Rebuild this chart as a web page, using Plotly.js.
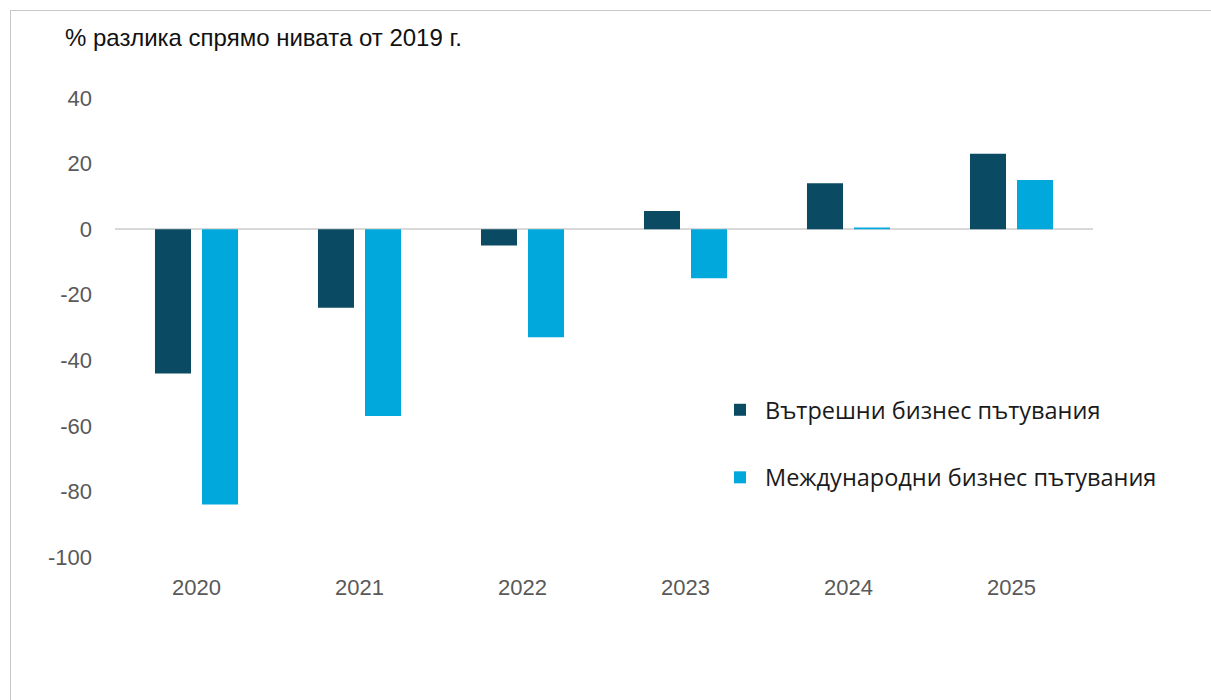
<!DOCTYPE html>
<html><head><meta charset="utf-8">
<script src="https://cdn.plot.ly/plotly-3.0.1.min.js"></script>
<style>
html,body{margin:0;padding:0;background:#fff;}
#wrap{position:relative;width:1211px;height:700px;overflow:hidden;}
#frame{position:absolute;left:10px;top:10px;width:1300px;height:800px;border-left:1px solid #c8c8c8;border-top:1px solid #c8c8c8;pointer-events:none;z-index:5;}
#chart{position:absolute;left:0;top:0;width:1211px;height:700px;}
</style></head>
<body><div id="wrap"><div id="chart"></div><div id="frame"></div></div>
<script>
const years = ["2020","2021","2022","2023","2024","2025"];
const domestic = [-44, -24, -5, 5.5, 14, 23];
const international = [-84, -57, -33, -15, 0.5, 15];
const seriesNames = ["Вътрешни бизнес пътувания","Международни бизнес пътувания"];
const yTicks = [40,20,0,-20,-40,-60,-80,-100];
const yTitle = "% разлика спрямо нивата от 2019 г.";

const traces = [
  {type:'bar', x:years, y:domestic, name:seriesNames[0], marker:{color:'#0b4a63'}, legendgroup:'a'},
  {type:'bar', x:years, y:international, name:seriesNames[1], marker:{color:'#00a8dc'}, legendgroup:'b'}
];
const layout = {
  width:1211, height:700,
  margin:{l:115, r:118, t:98, b:143},
  paper_bgcolor:'#fff', plot_bgcolor:'#fff',
  barmode:'group', bargap:0.423, bargroupgap:0.234,
  font:{family:'Liberation Sans, Arial, sans-serif', color:'#595959'},
  xaxis:{type:'category', range:[-0.5,5.5], showgrid:false, zeroline:false, showline:false,
         ticks:'', tickfont:{size:22, color:'#595959'}, ticklabelstandoff:15},
  yaxis:{range:[-100,40], tickvals:yTicks, ticktext:yTicks.map(String), showgrid:false,
         zeroline:true, zerolinecolor:'#d9d9d9', zerolinewidth:2, showline:false, ticks:'',
         tickfont:{size:22, color:'#595959'}, ticklabelstandoff:22},
  showlegend:true,
  legend:{x:(715-115)/978, xanchor:'left', y:(557-388)/459, yanchor:'top',
          font:{size:23.5, color:'#1a1a1a', family:'Open Sans, sans-serif'},
          tracegroupgap:34, itemwidth:40, bgcolor:'rgba(0,0,0,0)'},
  annotations:[{text:yTitle, xref:'paper', yref:'paper', x:-52/978, y:(557-37)/459,
    xanchor:'left', yanchor:'middle', showarrow:false,
    font:{size:24, color:'#111', family:'Liberation Sans, sans-serif'}}]
};
Plotly.newPlot('chart', traces, layout, {displayModeBar:false, staticPlot:true});
</script></body></html>
